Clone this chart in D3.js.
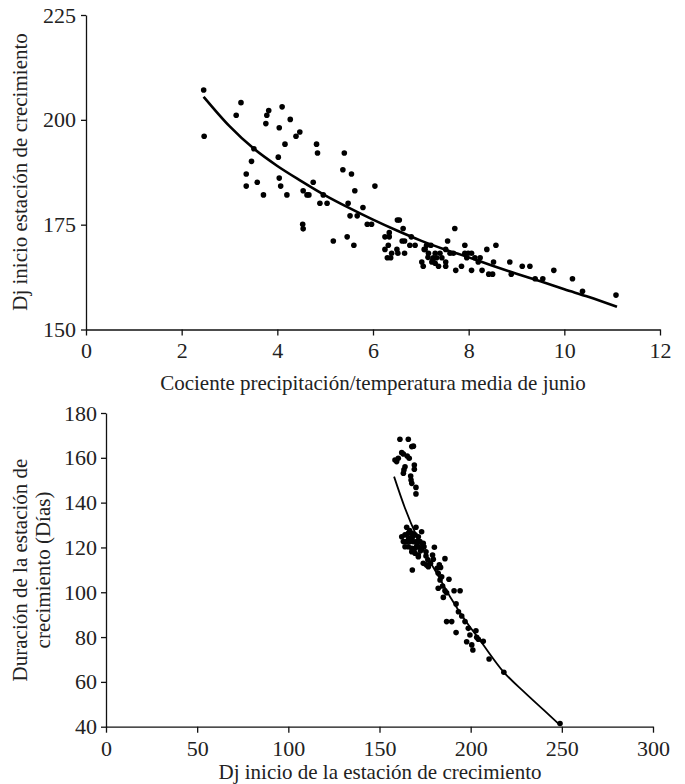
<!DOCTYPE html>
<html>
<head>
<meta charset="utf-8">
<script src="https://cdn.jsdelivr.net/npm/d3@7"></script>
<style>
  body { margin: 0; background: #fff; }
  svg text { font-family: "Liberation Serif", "Times New Roman", serif !important; fill: #222; }
</style>
</head>
<body>
<script>
// ---- top panel: Dj inicio vs cociente precipitación/temperatura
var topX = [2.46,2.47,3.24,3.14,3.76,3.78,3.82,4.10,4.27,4.04,4.39,4.47,4.16,4.82,4.84,5.40,5.37,5.55,6.04,5.62,
  3.51,4.02,3.46,3.35,4.04,3.35,3.58,3.71,4.07,4.20,4.54,4.62,4.66,4.75,4.96,4.89,5.04,5.48,5.52,5.67,5.79,5.88,5.97,
  4.53,4.54,5.17,5.46,5.60,
  6.51,6.55,6.63,6.25,6.34,6.34,6.32,6.25,6.30,6.37,6.39,6.50,6.52,6.61,6.66,6.66,6.80,6.77,6.88,7.02,7.05,7.07,7.12,
  7.16,7.21,7.23,7.26,7.30,7.37,7.33,7.44,7.52,7.52,7.52,7.56,7.61,7.71,7.68,7.73,7.85,7.92,7.92,7.99,8.06,7.96,8.06,
  8.13,8.20,8.24,8.28,8.38,8.42,8.50,8.52,8.57,8.86,8.89,9.12,9.28,9.39,9.55,9.78,10.17,10.38,11.08,
  7.09,7.40,7.15,7.25,7.30];
var topY = [207.1,196.1,204.1,201.1,199.1,201.1,202.2,203.1,200.1,198.1,196.1,197.1,194.2,194.2,192.1,192.1,188.1,187.1,184.2,183.1,
  193.1,191.1,190.1,187.1,186.1,184.2,185.1,182.1,184.2,182.1,183.1,182.1,182.1,185.1,182.1,180.1,180.1,180.1,177.1,177.1,179.1,175.1,175.1,
  175.1,174.0,171.1,172.1,170.1,
  176.1,176.1,174.1,172.1,172.1,173.1,170.1,169.1,167.1,167.1,168.2,169.1,168.2,171.1,171.1,168.2,172.1,170.1,170.1,166.1,165.1,169.1,170.1,
  168.2,170.1,166.1,167.1,168.2,165.1,167.1,167.1,166.1,165.1,169.1,171.1,168.2,174.1,168.2,164.1,165.1,170.1,168.2,168.2,168.2,167.1,164.1,
  167.1,166.1,167.1,164.1,169.1,163.2,163.2,166.1,170.1,166.1,163.2,165.1,165.1,162.1,162.1,164.1,162.1,159.1,158.2,
  169.1,168.2,167.2,166.6,165.8];
// fitted trend
var topFitX = [2.46,3.0,3.5,4.0,4.5,5.0,5.5,6.0,6.5,7.0,7.5,8.0,8.5,9.0,9.5,10.0,10.5,11.1];
var topFitY = [205.5,198.5,193.2,189.0,185.4,182.0,179.0,176.2,173.6,171.2,169.1,167.2,165.2,163.3,161.5,159.6,157.8,155.4];
var topXTicks = [0,2,4,6,8,10,12];
var topYTicks = [150,175,200,225];

// ---- bottom panel: duración vs Dj inicio
var botX = [161.2,165.8,167.7,168.6,162.2,163.1,165.2,166.3,158.5,159.4,160.3,169.1,169.1,164.0,163.4,163.1,167.1,167.3,167.7,170.0,170.0,
  164.9,170.0,162.2,164.0,165.8,167.7,169.5,171.3,173.1,163.1,164.9,166.7,168.5,170.4,172.2,174.0,164.0,165.8,167.7,169.5,171.3,173.1,
  167.7,169.5,171.3,174.4,171.3,175.5,180.1,168.0,175.5,174.0,175.8,176.8,179.1,179.5,185.9,182.8,181.6,183.5,182.2,184.1,183.2,188.1,
  184.6,185.9,182.2,186.8,185.0,190.9,194.2,192.0,193.3,195.1,186.8,189.6,196.9,192.0,198.7,199.6,202.9,197.8,200.6,201.2,203.3,204.2,
  206.9,210.1,218.2,249.0,
  166.0,168.0,170.5,172.5,166.5,176.5,178.0];
var botY = [168.3,168.3,165.0,165.2,162.3,161.7,160.8,159.8,159.0,158.3,159.8,156.8,154.9,156.0,154.6,153.1,151.9,150.1,148.6,146.8,143.9,
  129.0,129.0,124.8,125.6,126.3,126.3,125.6,124.8,127.0,122.6,122.6,122.6,122.6,122.6,122.6,121.9,120.3,120.3,119.6,119.6,120.3,119.6,
  118.1,117.4,116.6,120.3,115.9,118.1,120.1,109.9,116.2,112.9,112.2,111.4,116.6,114.7,115.0,112.2,110.7,111.1,108.5,106.9,105.5,105.8,
  102.8,100.7,101.8,99.8,97.7,100.7,100.7,94.8,91.3,89.4,86.9,86.9,86.9,82.0,83.9,80.9,82.8,77.9,76.5,74.2,79.9,79.0,
  78.1,70.2,64.3,41.4,
  124.0,124.5,121.0,118.5,127.5,114.5,113.0];
var botFitX = [158,164,170.4,176,181.4,188.7,196.9,205,218,230,240,249];
var botFitY = [151.6,137.5,125,116,108.5,98,87.6,78.7,64.5,55,47.5,40.7];
var botXTicks = [0,50,100,150,200,250,300];
var botYTicks = [40,60,80,100,120,140,160,180];

var tickFont = 22, titleFont = 21;

var svg = d3.select("body").append("svg")
  .attr("width", 685)
  .attr("height", 784);

function panel(o) {
  var x = d3.scaleLinear().domain(o.xDom).range(o.xRange);
  var y = d3.scaleLinear().domain(o.yDom).range(o.yRange);
  var g = svg.append("g");

  g.append("g")
    .attr("transform", "translate(0," + o.yRange[0] + ")")
    .call(d3.axisBottom(x).tickValues(o.xTicks).tickSize(6).tickSizeOuter(0).tickPadding(o.xPad))
    .call(a => a.select(".domain").attr("stroke", "#111").attr("stroke-width", 1.3))
    .call(a => a.selectAll(".tick line").attr("stroke", "#111").attr("stroke-width", 1.3))
    .call(a => a.selectAll(".tick text").style("font-size", tickFont + "px"));

  g.append("g")
    .attr("transform", "translate(" + o.xRange[0] + ",0)")
    .call(d3.axisLeft(y).tickValues(o.yTicks).tickSize(5).tickSizeOuter(0).tickPadding(o.yPad))
    .call(a => a.select(".domain").attr("stroke", "#111").attr("stroke-width", 1.3))
    .call(a => a.selectAll(".tick line").attr("stroke", "#111").attr("stroke-width", 1.3))
    .call(a => a.selectAll(".tick text").style("font-size", tickFont + "px"));

  g.selectAll("circle.pt")
    .data(o.px.map((v, i) => [v, o.py[i]]))
    .enter().append("circle")
    .attr("class", "pt")
    .attr("cx", d => x(d[0]))
    .attr("cy", d => y(d[1]))
    .attr("r", 2.8)
    .attr("fill", "#000");

  var line = d3.line().x(d => x(d[0])).y(d => y(d[1])).curve(d3.curveMonotoneX);
  g.append("path")
    .datum(o.fx.map((v, i) => [v, o.fy[i]]))
    .attr("d", line)
    .attr("fill", "none")
    .attr("stroke", "#000")
    .attr("stroke-width", o.lw);
}

panel({
  xDom: [0, 12], xRange: [86, 660], yDom: [150, 225], yRange: [329.5, 15],
  xTicks: topXTicks, yTicks: topYTicks, xPad: 7, yPad: 5,
  px: topX, py: topY, fx: topFitX, fy: topFitY, lw: 2.6
});

panel({
  xDom: [0, 300], xRange: [106, 653], yDom: [40, 180], yRange: [726.7, 413],
  xTicks: botXTicks, yTicks: botYTicks, xPad: 8, yPad: 4,
  px: botX, py: botY, fx: botFitX, fy: botFitY, lw: 1.8
});

// axis titles
svg.append("text")
  .attr("x", 373).attr("y", 390)
  .attr("text-anchor", "middle").style("font-size", titleFont + "px")
  .text("Cociente precipitación/temperatura media de junio");

svg.append("text")
  .attr("transform", "translate(27,172) rotate(-90)")
  .attr("text-anchor", "middle").style("font-size", titleFont + "px")
  .text("Dj inicio estación de crecimiento");

svg.append("text")
  .attr("x", 380).attr("y", 779)
  .attr("text-anchor", "middle").style("font-size", titleFont + "px")
  .text("Dj inicio de la estación de crecimiento");

var yt = svg.append("text")
  .attr("transform", "translate(27,570) rotate(-90)")
  .attr("text-anchor", "middle").style("font-size", titleFont + "px");
yt.append("tspan").attr("x", 0).attr("dy", 0).text("Duración de la estación de");
yt.append("tspan").attr("x", 0).attr("dy", 23).text("crecimiento (Días)");
</script>
</body>
</html>
